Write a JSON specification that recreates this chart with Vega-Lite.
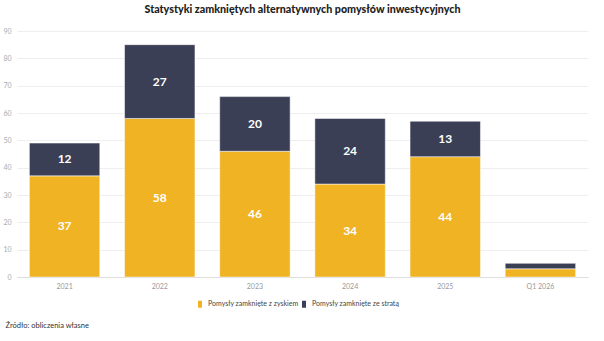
{
  "$schema": "https://vega.github.io/schema/vega-lite/v6.json",
  "width": 571,
  "height": 246,
  "autosize": {"type": "none"},
  "padding": {"left": 17, "top": 31, "right": 16, "bottom": 64},
  "background": "white",
  "title": {
    "text": "Statystyki zamkniętych alternatywnych pomysłów inwestycyjnych",
    "font": "Lato",
    "fontSize": 10.7,
    "fontWeight": 900,
    "color": "#222222",
    "anchor": "middle",
    "offset": 11
  },
  "data": {
    "values": [
      {"okres": "2021", "typ": "Pomysły zamknięte z zyskiem", "wartosc": 37, "kolejnosc": 1},
      {"okres": "2021", "typ": "Pomysły zamknięte ze stratą", "wartosc": 12, "kolejnosc": 2},
      {"okres": "2022", "typ": "Pomysły zamknięte z zyskiem", "wartosc": 58, "kolejnosc": 1},
      {"okres": "2022", "typ": "Pomysły zamknięte ze stratą", "wartosc": 27, "kolejnosc": 2},
      {"okres": "2023", "typ": "Pomysły zamknięte z zyskiem", "wartosc": 46, "kolejnosc": 1},
      {"okres": "2023", "typ": "Pomysły zamknięte ze stratą", "wartosc": 20, "kolejnosc": 2},
      {"okres": "2024", "typ": "Pomysły zamknięte z zyskiem", "wartosc": 34, "kolejnosc": 1},
      {"okres": "2024", "typ": "Pomysły zamknięte ze stratą", "wartosc": 24, "kolejnosc": 2},
      {"okres": "2025", "typ": "Pomysły zamknięte z zyskiem", "wartosc": 44, "kolejnosc": 1},
      {"okres": "2025", "typ": "Pomysły zamknięte ze stratą", "wartosc": 13, "kolejnosc": 2},
      {"okres": "Q1 2026", "typ": "Pomysły zamknięte z zyskiem", "wartosc": 3, "kolejnosc": 1},
      {"okres": "Q1 2026", "typ": "Pomysły zamknięte ze stratą", "wartosc": 2, "kolejnosc": 2}
    ]
  },
  "encoding": {
    "x": {
      "field": "okres",
      "type": "nominal",
      "sort": null,
      "scale": {"paddingInner": 0.26, "paddingOuter": 0.13},
      "axis": {
        "title": "Źródło: obliczenia własne",
        "titleFont": "Lato",
        "titleFontSize": 7.5,
        "titleFontWeight": "normal",
        "titleColor": "#333333",
        "titleAnchor": "start",
        "titleAlign": "left",
        "titleBaseline": "middle",
        "titleX": -12,
        "titleY": 48,
        "labelAngle": 0,
        "labelFont": "Lato",
        "labelFontSize": 7,
        "labelColor": "#999999",
        "labelPadding": 5,
        "ticks": false,
        "domain": true,
        "domainColor": "#dddddd",
        "grid": false
      }
    },
    "y": {
      "field": "wartosc",
      "type": "quantitative",
      "stack": "zero",
      "scale": {"domain": [0, 90], "nice": false},
      "axis": {
        "title": null,
        "values": [0, 10, 20, 30, 40, 50, 60, 70, 80, 90],
        "labelFont": "Lato",
        "labelFontSize": 7,
        "labelColor": "#aaaaaa",
        "labelPadding": 6,
        "ticks": false,
        "domain": false,
        "gridColor": "#eeeeee",
        "gridWidth": 1
      }
    },
    "order": {"field": "kolejnosc", "type": "quantitative"}
  },
  "layer": [
    {
      "mark": {"type": "bar", "stroke": "white", "strokeWidth": 0.5},
      "encoding": {
        "color": {
          "field": "typ",
          "type": "nominal",
          "scale": {
            "domain": ["Pomysły zamknięte z zyskiem", "Pomysły zamknięte ze stratą"],
            "range": ["#F0B323", "#3B3F56"]
          },
          "legend": {
            "title": null,
            "orient": "none",
            "direction": "horizontal",
            "legendX": 178,
            "legendY": 268,
            "symbolType": "M-0.4,-0.7 L0.4,-0.7 L0.4,0.7 L-0.4,0.7 Z",
            "symbolSize": 100,
            "symbolStrokeWidth": 0,
            "labelFont": "Lato",
            "labelFontSize": 7,
            "labelColor": "#444444",
            "columnPadding": 0,
            "labelOffset": 3
          }
        }
      }
    },
    {
      "transform": [{"filter": "datum.wartosc > 5"}],
      "mark": {
        "type": "text",
        "font": "Lato",
        "fontSize": 12,
        "fontWeight": "bold",
        "color": "white",
        "baseline": "middle"
      },
      "encoding": {
        "y": {"field": "wartosc", "type": "quantitative", "stack": "zero", "bandPosition": 0.5},
        "text": {"field": "wartosc", "type": "quantitative"}
      }
    }
  ],
  "config": {
    "view": {"stroke": null}
  }
}
